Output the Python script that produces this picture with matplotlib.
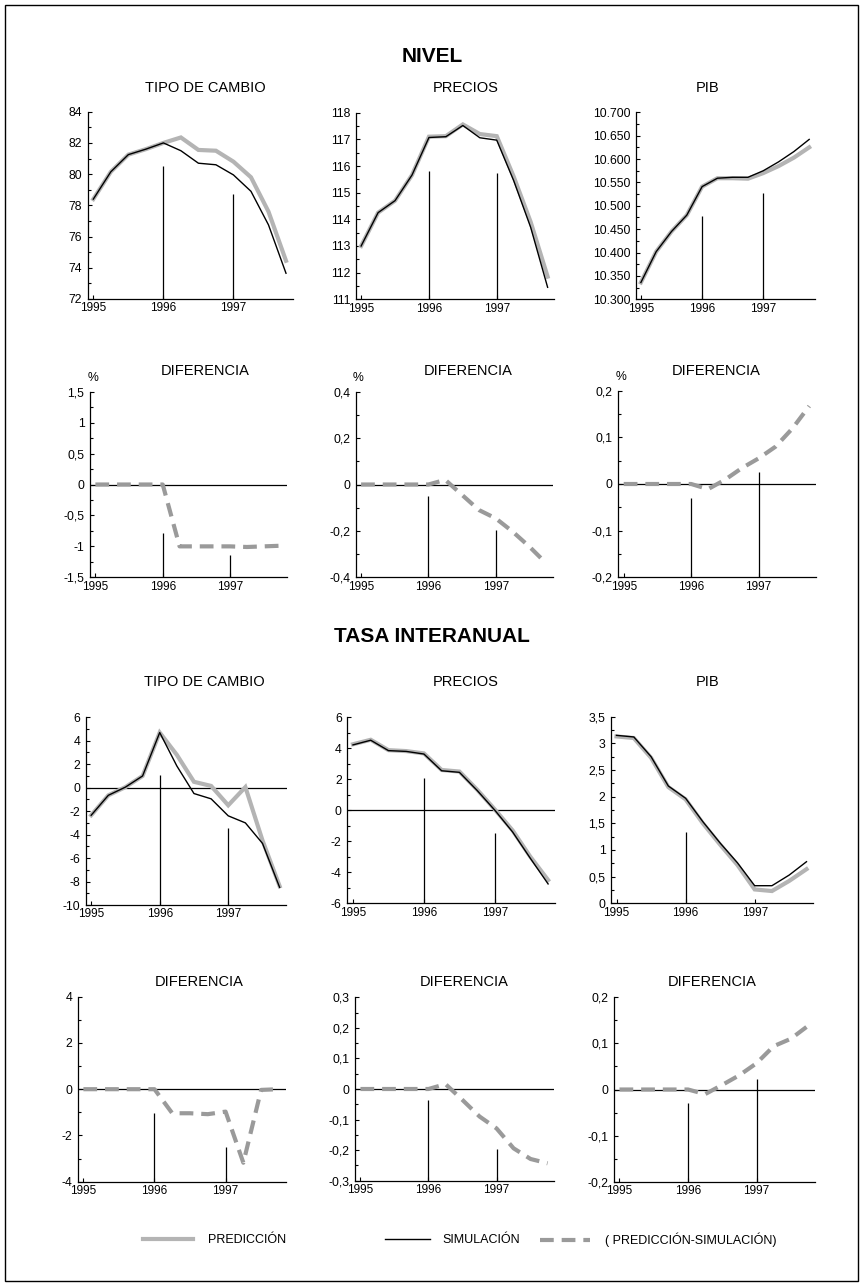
import matplotlib
matplotlib.use("Agg")
import matplotlib.pyplot as plt
from matplotlib.ticker import MultipleLocator, FixedLocator, FuncFormatter
from matplotlib.lines import Line2D
from matplotlib.patches import Rectangle
import numpy as np

plt.rcParams["font.family"] = ["Liberation Sans", "DejaVu Sans"]

# ---------------------------------------------------------------- data
quarters = [1995.0, 1995.25, 1995.5, 1995.75,
            1996.0, 1996.25, 1996.5, 1996.75,
            1997.0, 1997.25, 1997.5, 1997.75]
year_ticks = [1995, 1996, 1997]
year_labels = ["1995", "1996", "1997"]

# NIVEL
tc_pred_nivel = [78.4, 80.15, 81.25, 81.6, 82.0, 82.35, 81.55, 81.5, 80.8, 79.8, 77.6, 74.45]
tc_sim_nivel = [78.4, 80.15, 81.25, 81.6, 82.0, 81.5, 80.7, 80.6, 79.95, 78.9, 76.75, 73.65]
pr_pred_nivel = [113.0, 114.25, 114.7, 115.66, 117.1, 117.12, 117.56, 117.2, 117.12, 115.6, 113.9, 111.85]
pr_sim_nivel = [113.0, 114.25, 114.7, 115.66, 117.07, 117.1, 117.52, 117.06, 116.97, 115.45, 113.7, 111.45]
pib_pred_nivel = [10336, 10402, 10445, 10480, 10541, 10559, 10559, 10558, 10570, 10585, 10603, 10625]
pib_sim_nivel = [10336, 10402, 10445, 10480, 10541, 10559, 10561, 10561, 10575, 10594, 10616, 10642]

tc_dif_nivel = [0, 0, 0, 0, 0, -1.0, -1.0, -1.0, -1.0, -1.01, -1.0, -0.99]
pr_dif_nivel = [0, 0, 0, 0, 0, 0.02, -0.045, -0.11, -0.146, -0.203, -0.268, -0.34]
pib_dif_nivel = [0, 0, 0, 0, 0, -0.011, 0.009, 0.034, 0.055, 0.08, 0.119, 0.167]

# TASA INTERANUAL
tc_pred_tasa = [-2.35, -0.65, 0.05, 1.0, 4.7, 2.8, 0.5, 0.15, -1.5, 0.05, -4.5, -8.4]
tc_sim_tasa = [-2.35, -0.65, 0.05, 1.0, 4.7, 1.85, -0.5, -0.95, -2.4, -3.0, -4.75, -8.5]
pr_pred_tasa = [4.26, 4.55, 3.88, 3.82, 3.67, 2.6, 2.5, 1.33, 0.05, -1.3, -3.0, -4.5]
pr_sim_tasa = [4.22, 4.52, 3.85, 3.8, 3.63, 2.55, 2.45, 1.28, 0.0, -1.4, -3.1, -4.75]
pib_pred_tasa = [3.13, 3.1, 2.73, 2.18, 1.95, 1.5, 1.1, 0.72, 0.26, 0.23, 0.42, 0.64]
pib_sim_tasa = [3.15, 3.12, 2.75, 2.2, 1.97, 1.53, 1.13, 0.76, 0.33, 0.33, 0.53, 0.78]

tc_dif_tasa = [0, 0, 0, 0, 0, -1.04, -1.04, -1.08, -0.97, -3.18, -0.03, 0.0]
pr_dif_tasa = [0, 0, 0, 0, 0, 0.016, -0.036, -0.09, -0.129, -0.194, -0.229, -0.243]
pib_dif_tasa = [0, 0, 0, 0, 0, -0.010, 0.01, 0.031, 0.057, 0.094, 0.11, 0.138]

# year-separator heights (at 1996 and 1997)
sep_tc_nivel = [80.5, 78.7]
sep_pr_nivel = [115.8, 115.75]
sep_pib_nivel = [10478, 10528]
sep_tc_dif_nivel = [-0.78, -1.14]
sep_pr_dif_nivel = [-0.048, -0.196]
sep_pib_dif_nivel = [-0.029, 0.026]
sep_tc_tasa = [1.08, -3.46]
sep_pr_tasa = [2.11, -1.48]
sep_pib_tasa = [1.33, np.nan]
sep_tc_dif_tasa = [-1.01, -2.48]
sep_pr_dif_tasa = [-0.036, -0.196]
sep_pib_dif_tasa = [-0.029, 0.022]

# ---------------------------------------------------------------- style
W, H = 864, 1286
fig = plt.figure(figsize=(W / 100, H / 100), dpi=100)

PRED_COLOR = "#b4b4b4"
DIF_COLOR = "#9a9a9a"
YTICK_FS = 8.8
XTICK_FS = 8.5
TITLE_FS = 10.5
HEAD_FS = 15
LEG_FS = 9
XMIN, XMAX = 1994.92, 1997.85


def px_axes(left, top, right, bottom):
    return fig.add_axes([left / W, 1 - bottom / H, (right - left) / W, (bottom - top) / H])


def dec_fmt(v, pos):
    v = round(v, 6)
    if v == 0:
        return "0"
    return f"{v:g}".replace(".", ",")


def thousands_fmt(v, pos):
    return f"{int(round(v)):,}".replace(",", ".")


def setup(ax, ylim, major, minor, fmt):
    ax.set_xlim(XMIN, XMAX)
    ax.set_ylim(*ylim)
    for s in ("top", "right"):
        ax.spines[s].set_visible(False)
    for s in ("left", "bottom"):
        ax.spines[s].set_linewidth(0.9)
    ax.xaxis.set_major_locator(FixedLocator(year_ticks))
    ax.set_xticklabels(year_labels)
    ax.yaxis.set_major_locator(MultipleLocator(major))
    ax.yaxis.set_minor_locator(MultipleLocator(minor))
    ax.yaxis.set_major_formatter(FuncFormatter(fmt))
    ax.tick_params(axis="both", which="both", direction="in", width=0.8)
    ax.tick_params(axis="y", which="major", length=3, pad=4, labelsize=YTICK_FS)
    ax.tick_params(axis="y", which="minor", length=2.5)
    ax.tick_params(axis="x", which="major", length=3, pad=2.5, labelsize=XTICK_FS)
    ax.patch.set_alpha(0)


def separators(ax, heights):
    lo = ax.get_ylim()[0]
    for yr, h in zip([1996, 1997], heights):
        if not np.isnan(h):
            ax.vlines(yr, lo, h, color="black", lw=0.9, zorder=1)


def level_panel(box, ylim, major, minor, fmt, pred, sim, sep, zero=False):
    ax = px_axes(*box)
    setup(ax, ylim, major, minor, fmt)
    if zero:
        ax.axhline(0, color="black", lw=0.9, zorder=1)
    separators(ax, sep)
    ax.plot(quarters, pred, color=PRED_COLOR, lw=3.0, solid_joinstyle="miter", zorder=2)
    ax.plot(quarters, sim, color="black", lw=1.0, zorder=3)
    return ax


def diff_panel(box, ylim, major, minor, fmt, dif, sep, pct=False):
    ax = px_axes(*box)
    setup(ax, ylim, major, minor, fmt)
    ax.axhline(0, color="black", lw=0.9, zorder=1)
    separators(ax, sep)
    ax.plot(quarters, dif, color=DIF_COLOR, lw=3.0, dashes=(3.3, 1.9),
            dash_capstyle="butt", zorder=2)
    if pct:
        ax.annotate("%", xy=(0, 1), xycoords="axes fraction", xytext=(2, 10),
                    textcoords="offset points", ha="center", va="center",
                    fontsize=YTICK_FS)
    return ax


# ---------------------------------------------------------------- headings
fig.text(432 / W, 1 - 56 / H, "NIVEL", ha="center", va="center",
         fontsize=HEAD_FS, fontweight="bold")
fig.text(432 / W, 1 - 636 / H, "TASA INTERANUAL", ha="center", va="center",
         fontsize=HEAD_FS, fontweight="bold")

panel_titles = [
    ("TIPO DE CAMBIO", 205, 88), ("PRECIOS", 466, 88), ("PIB", 708, 88),
    ("DIFERENCIA", 205, 371), ("DIFERENCIA", 468, 371), ("DIFERENCIA", 716, 371),
    ("TIPO DE CAMBIO", 204, 682), ("PRECIOS", 466, 682), ("PIB", 708, 682),
    ("DIFERENCIA", 199, 982), ("DIFERENCIA", 464, 982), ("DIFERENCIA", 712, 982),
]
for txt, x, y in panel_titles:
    fig.text(x / W, 1 - y / H, txt, ha="center", va="center", fontsize=TITLE_FS)

# ---------------------------------------------------------------- NIVEL
level_panel((87.7, 111.7, 293, 299), (72, 84), 2, 1, dec_fmt,
            tc_pred_nivel, tc_sim_nivel, sep_tc_nivel)
level_panel((355.7, 112.7, 554.4, 299.3), (111, 118), 1, 0.5, dec_fmt,
            pr_pred_nivel, pr_sim_nivel, sep_pr_nivel)
level_panel((636, 112.3, 815.3, 299.3), (10300, 10700), 50, 25, thousands_fmt,
            pib_pred_nivel, pib_sim_nivel, sep_pib_nivel)

diff_panel((90, 391.7, 287.3, 577.3), (-1.5, 1.5), 0.5, 0.25, dec_fmt,
           tc_dif_nivel, sep_tc_dif_nivel, pct=True)
diff_panel((355.7, 391.7, 553, 577.3), (-0.4, 0.4), 0.2, 0.1, dec_fmt,
           pr_dif_nivel, sep_pr_dif_nivel, pct=True)
diff_panel((618.3, 390.7, 816, 577.3), (-0.2, 0.2), 0.1, 0.05, dec_fmt,
           pib_dif_nivel, sep_pib_dif_nivel, pct=True)

# ---------------------------------------------------------------- TASA INTERANUAL
level_panel((85.7, 717.3, 286.5, 905), (-10, 6), 2, 1, dec_fmt,
            tc_pred_tasa, tc_sim_tasa, sep_tc_tasa, zero=True)
level_panel((347.3, 717.3, 555.2, 903.3), (-6, 6), 2, 1, dec_fmt,
            pr_pred_tasa, pr_sim_tasa, sep_pr_tasa, zero=True)
level_panel((611, 716.7, 813.4, 903.3), (0, 3.5), 0.5, 0.25, dec_fmt,
            pib_pred_tasa, pib_sim_tasa, sep_pib_tasa)

diff_panel((77.7, 996.7, 286, 1181.7), (-4, 4), 2, 1, dec_fmt,
           tc_dif_tasa, sep_tc_dif_tasa)
diff_panel((355, 997.3, 554.4, 1180.7), (-0.3, 0.3), 0.1, 0.05, dec_fmt,
           pr_dif_tasa, sep_pr_dif_tasa)
diff_panel((614, 997.3, 814.8, 1181.7), (-0.2, 0.2), 0.1, 0.05, dec_fmt,
           pib_dif_tasa, sep_pib_dif_tasa)

# ---------------------------------------------------------------- legend
legend_entries = [
    (Line2D([], [], color=PRED_COLOR, lw=3.0), "PREDICCIÓN", 143, 4.0, 1.2),
    (Line2D([], [], color="black", lw=1.0), "SIMULACIÓN", 385, 3.6, 1.0),
    (Line2D([], [], color=DIF_COLOR, lw=3.0, dashes=(3.3, 1.9), dash_capstyle="butt"),
     "( PREDICCIÓN-SIMULACIÓN)", 540, 4.0, 1.2),
]
for handle, label, x0, hlen, hpad in legend_entries:
    fig.legend([handle], [label], loc="center left",
               bbox_to_anchor=(x0 / W, 1 - 1240 / H), frameon=False,
               fontsize=LEG_FS, handlelength=hlen, handletextpad=hpad,
               borderpad=0, borderaxespad=0)

# outer frame
fig.add_artist(Rectangle((5 / W, 5 / H), (858 - 5) / W, (1281 - 5) / H,
                         transform=fig.transFigure, fill=False,
                         edgecolor="black", lw=1.0))

fig.savefig("out.png", dpi=100)
